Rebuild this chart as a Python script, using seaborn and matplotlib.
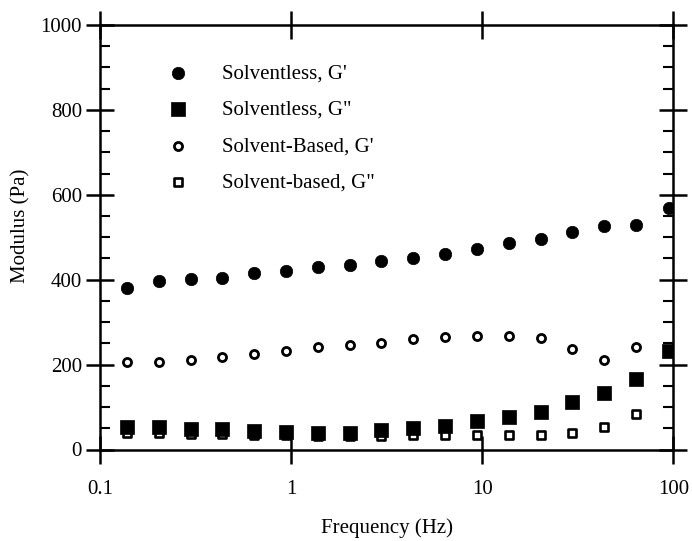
import matplotlib
matplotlib.use("Agg")
import matplotlib.pyplot as plt
import numpy as np
import pandas as pd
import seaborn as sns
from matplotlib.ticker import FixedLocator, FixedFormatter, MultipleLocator, NullLocator

# Oscillatory frequency sweep (Hz)
freq_hz = [0.138, 0.203, 0.298, 0.436, 0.640, 0.940, 1.38, 2.03, 2.97,
           4.36, 6.38, 9.35, 13.8, 20.2, 29.6, 43.6, 63.8, 94.4]

# Storage (G') and loss (G") moduli, Pa
solventless_g1 = [381, 396, 401, 405, 415, 420, 430, 435, 445,
                  451, 461, 473, 487, 497, 512, 527, 528, 570]
solventless_g2 = [52, 52, 48, 48, 43, 41, 40, 40, 45,
                  50, 56, 68, 77, 88, 112, 133, 167, 233]
solvent_g1 = [206, 207, 212, 217, 226, 231, 241, 246, 251,
              261, 266, 267, 267, 262, 236, 211, 242]
solvent_g2 = [38, 38, 36, 36, 34, 33, 32, 32, 32,
              33, 33, 34, 34, 35, 39, 53, 84]

labels = ["Solventless, G'", 'Solventless, G"', "Solvent-Based, G'", 'Solvent-based, G"']

frames = []
for name, vals in zip(labels, [solventless_g1, solventless_g2, solvent_g1, solvent_g2]):
    frames.append(pd.DataFrame({"freq": freq_hz[:len(vals)], "modulus": vals, "series": name}))
data = pd.concat(frames, ignore_index=True)

sns.set_theme(style="ticks")
plt.rcParams["font.family"] = ["Liberation Serif", "DejaVu Serif"]
plt.rcParams.update({
    "axes.edgecolor": "black",
    "axes.linewidth": 1.8,
    "text.color": "black",
    "axes.labelcolor": "black",
    "xtick.color": "black",
    "ytick.color": "black",
})

fig = plt.figure(figsize=(6.92, 5.41), dpi=100)
ax = fig.add_axes([100 / 692, 91.5 / 541, 573.3 / 692, 424.5 / 541])

# marker styles per series (open symbols drawn first so filled ones sit on top)
styles = {
    "Solvent-Based, G'": dict(marker="o", s=34, color="white", edgecolor="black", linewidth=2.0),
    'Solvent-based, G"': dict(marker="s", s=34, color="white", edgecolor="black", linewidth=1.9),
    'Solventless, G"': dict(marker="s", s=92, color="black", edgecolor="black", linewidth=0.5),
    "Solventless, G'": dict(marker="o", s=80, color="black", edgecolor="black", linewidth=0.5),
}
for name, kw in styles.items():
    sub = data[data["series"] == name]
    sns.scatterplot(data=sub, x="freq", y="modulus", ax=ax, label=name, zorder=3, **kw)

ax.set_xscale("log")
ax.set_xlim(0.1, 100)
ax.set_ylim(0, 1000)
ax.xaxis.set_major_locator(FixedLocator([0.1, 1, 10, 100]))
ax.xaxis.set_major_formatter(FixedFormatter(["0.1", "1", "10", "100"]))
ax.xaxis.set_minor_locator(NullLocator())
ax.yaxis.set_major_locator(MultipleLocator(200))
ax.yaxis.set_minor_locator(MultipleLocator(50))

ax.tick_params(which="major", direction="inout", length=20, width=1.8,
               top=True, right=True, labelsize=15)
ax.tick_params(axis="y", which="major", pad=3)
ax.tick_params(axis="x", which="major", pad=12)
ax.tick_params(which="minor", direction="in", length=7, width=1.5,
               left=True, right=True)
for side in ["top", "right", "left", "bottom"]:
    ax.spines[side].set_visible(True)
    ax.spines[side].set_linewidth(1.8)

ax.set_xlabel("Frequency (Hz)", fontsize=15, labelpad=14)
ax.set_ylabel("Modulus (Pa)", fontsize=15)
ax.yaxis.set_label_coords(-0.121, 0.527)

handles, hlabels = ax.get_legend_handles_labels()
order = [hlabels.index(l) for l in labels]
ax.legend([handles[i] for i in order], [hlabels[i] for i in order],
          loc="upper left", bbox_to_anchor=(0.118, 0.908), frameon=False,
          fontsize=15, handlelength=1.0, handletextpad=1.6,
          labelspacing=0.8, borderpad=0, borderaxespad=0)

fig.savefig("out.png", dpi=100, facecolor="white")
